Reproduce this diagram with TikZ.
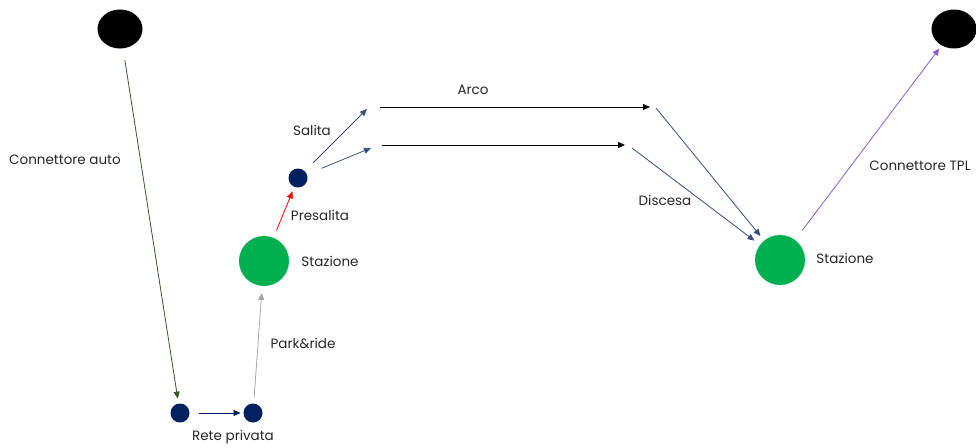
\documentclass[tikz,border=0pt]{standalone}
\usepackage{fontspec}
\setmainfont{Poppins}
\usepackage{tikz}
\usetikzlibrary{arrows.meta, shapes.geometric}

\begin{document}
\begin{tikzpicture}[
  x=1pt, y=-1pt,
  every node/.style={outer sep=0pt, inner sep=0pt},
  terminal/.style={ellipse, fill=black, minimum width=45pt, minimum height=39pt},
  station/.style={circle, fill=stationgreen, minimum size=50pt},
  stop/.style={circle, fill=navy, minimum size=19pt},
  label/.style={font=\fontsize{13.5}{15}\selectfont, text=labelgray},
  link/.style={-{Triangle[length=7pt,width=6pt]}, line width=0.8pt},
]
  \definecolor{navy}{RGB}{0,32,96}
  \definecolor{stationgreen}{RGB}{0,176,80}
  \definecolor{labelgray}{RGB}{38,38,38}
  \definecolor{slate}{RGB}{52,78,128}
  \definecolor{autogreen}{RGB}{56,87,35}
  \definecolor{tplpurple}{RGB}{140,90,205}

  \useasboundingbox (0,0) rectangle (976,447);

  % nodes
  \node[terminal] (autoT) at (120,29) {};
  \node[terminal] (tplT) at (954,29) {};
  \node[stop] (retA) at (180,413) {};
  \node[stop] (retB) at (253,413) {};
  \node[station] (staz1) at (264,261) {};
  \node[stop] (pre) at (298,178) {};
  \node[station] (staz2) at (780,260) {};

  % free ends of the line arcs
  \coordinate (salA) at (367,109);
  \coordinate (salB) at (371,148);
  \coordinate (arcA1) at (380,107);
  \coordinate (arcA2) at (650,107);
  \coordinate (arcB1) at (382,145);
  \coordinate (arcB2) at (625,145);
  \coordinate (disA) at (656,108);
  \coordinate (disB) at (632,148);

  % connectors
  \draw[link, autogreen, shorten <=12pt, shorten >=5pt] (autoT) -- (retA);
  \draw[link, navy, shorten <=9pt, shorten >=3pt] (retA) -- (retB);
  \draw[link, gray!70, shorten <=6pt, shorten >=7pt] (retB) -- (staz1);
  \draw[link, red, shorten <=8pt, shorten >=5pt] (staz1) -- (pre);
  \draw[link, slate, shorten <=12pt] (pre) -- (salA);
  \draw[link, slate, shorten <=16pt] (pre) -- (salB);
  \draw[link, black] (arcA1) -- (arcA2);
  \draw[link, black] (arcB1) -- (arcB2);
  \draw[link, slate, shorten >=6pt] (disA) -- (staz2);
  \draw[link, slate, shorten >=7pt] (disB) -- (staz2);
  \draw[link, tplpurple, shorten <=12pt, shorten >=4pt] (staz2) -- (tplT);

  % labels
  \node[label] (lAuto) at (65,160) {Connettore auto};
  \node[label] (lRete) at (233,437) {Rete privata};
  \node[label] (lPark) at (303,343) {Park\&ride};
  \node[label] (lStaz1) at (330,261) {Stazione};
  \node[label] (lPre) at (320,215) {Presalita};
  \node[label] (lSal) at (312,130) {Salita};
  \node[label] (lArco) at (473,90) {Arco};
  \node[label] (lDis) at (665,200) {Discesa};
  \node[label] (lStaz2) at (845,258) {Stazione};
  \node[label] (lTpl) at (920,166) {Connettore TPL};
\end{tikzpicture}
\end{document}
